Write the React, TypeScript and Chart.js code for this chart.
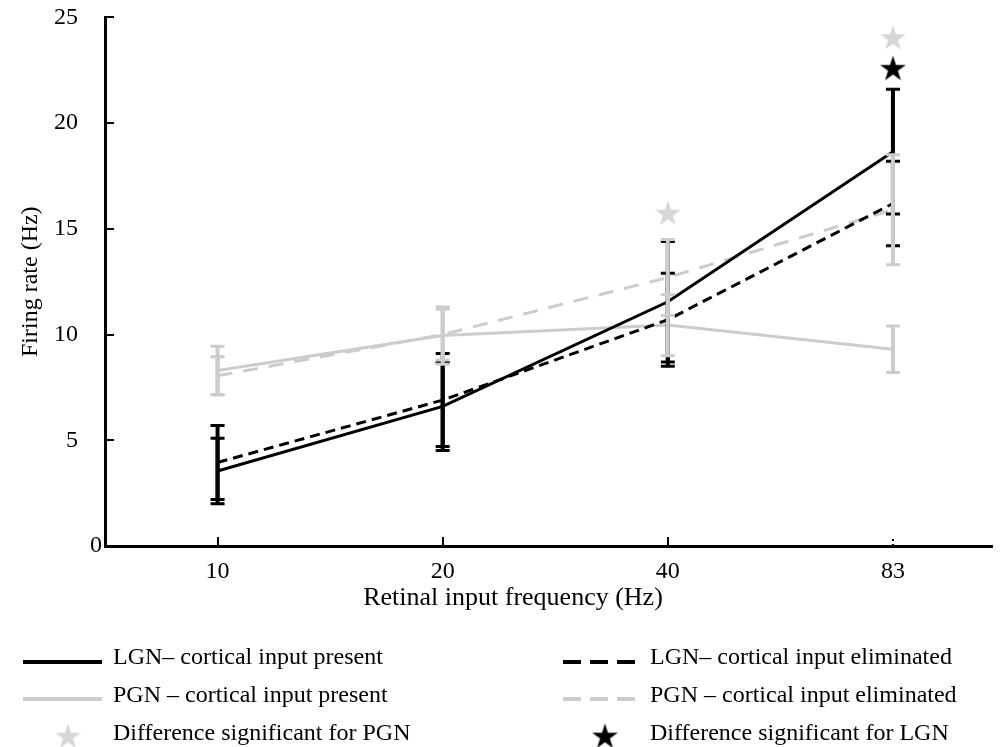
import { useEffect, useRef } from 'react';
import { Chart, registerables } from 'chart.js';

Chart.register(...registerables);

// ---------- data ----------
const frequencies = ['10', '20', '40', '83'];
const xPositions = [1, 2, 3, 4];
const yTicks = [0, 5, 10, 15, 20, 25];

const lgnPresent = [3.55, 6.6, 11.55, 18.65];
const lgnPresentErr = [1.55, 2.08, 2.85, 2.95];
const lgnEliminated = [3.95, 6.9, 10.7, 16.2];
const lgnEliminatedErr = [1.75, 2.2, 2.2, 2.0];
const pgnPresent = [8.3, 9.95, 10.45, 9.3];
const pgnPresentErr = [1.15, 1.35, 1.45, 1.1];
const pgnEliminated = [8.05, 10.0, 12.7, 15.9];
const pgnEliminatedErr = [0.9, 1.2, 1.8, 2.6];

const pgnSignificantX = [3, 4];
const pgnSignificantY = [15.7, 24.0];
const lgnSignificantX = [4];
const lgnSignificantY = [22.55];

const legendLabels = [
  'LGN\u2013 cortical input present',
  'LGN\u2013 cortical input eliminated',
  'PGN \u2013 cortical input present',
  'PGN \u2013 cortical input eliminated',
  'Difference significant for PGN',
  'Difference significant for LGN',
];

const xTitle = 'Retinal input frequency (Hz)';
const yTitle = 'Firing rate (Hz)';

// ---------- styles ----------
const BLACK = '#000000';
const GRAY = '#cccccc';
const STAR_GRAY = '#d6d6d6';
const FONT = 'Liberation Serif';

function makeStar(color: string, outer: number): HTMLCanvasElement {
  const size = Math.ceil(outer * 2 + 2);
  const c = document.createElement('canvas');
  c.width = size;
  c.height = size;
  const ctx = c.getContext('2d')!;
  ctx.fillStyle = color;
  ctx.beginPath();
  const cx = size / 2;
  const cy = size / 2;
  const inner = outer * 0.382;
  for (let i = 0; i < 10; i++) {
    const r = i % 2 === 0 ? outer : inner;
    const a = -Math.PI / 2 + (i * Math.PI) / 5;
    const x = cx + r * Math.cos(a);
    const y = cy + r * Math.sin(a);
    if (i === 0) ctx.moveTo(x, y);
    else ctx.lineTo(x, y);
  }
  ctx.closePath();
  ctx.fill();
  return c;
}

const pts = (ys: number[], xs: number[] = xPositions) => xs.map((x, i) => ({ x, y: ys[i] }));

const errorSeries = [
  { mean: lgnPresent, err: lgnPresentErr, color: BLACK },
  { mean: lgnEliminated, err: lgnEliminatedErr, color: BLACK },
  { mean: pgnPresent, err: pgnPresentErr, color: GRAY },
  { mean: pgnEliminated, err: pgnEliminatedErr, color: GRAY },
];

const errorBarPlugin = {
  id: 'errorBars',
  afterDatasetsDraw(chart: any) {
    const { ctx, scales } = chart;
    const xs = scales.x;
    const ys = scales.y;
    ctx.save();
    ctx.lineCap = 'butt';
    errorSeries.forEach((s) => {
      ctx.strokeStyle = s.color;
      xPositions.forEach((xv, i) => {
        const px = xs.getPixelForValue(xv);
        const top = ys.getPixelForValue(s.mean[i] + s.err[i]);
        const bot = ys.getPixelForValue(s.mean[i] - s.err[i]);
        ctx.lineWidth = 4;
        ctx.beginPath();
        ctx.moveTo(px, top);
        ctx.lineTo(px, bot);
        ctx.stroke();
        ctx.lineWidth = 3;
        ctx.beginPath();
        ctx.moveTo(px - 7, top);
        ctx.lineTo(px + 7, top);
        ctx.moveTo(px - 7, bot);
        ctx.lineTo(px + 7, bot);
        ctx.stroke();
      });
    });
    ctx.restore();
  },
};

const axisTickPlugin = {
  id: 'inwardTicks',
  afterDraw(chart: any) {
    const { ctx, scales, chartArea } = chart;
    ctx.save();
    ctx.strokeStyle = BLACK;
    ctx.lineWidth = 2;
    yTicks.forEach((v) => {
      if (v === 0) return;
      const py = Math.round(scales.y.getPixelForValue(v));
      ctx.beginPath();
      ctx.moveTo(chartArea.left, py);
      ctx.lineTo(chartArea.left + 9, py);
      ctx.stroke();
    });
    xPositions.forEach((v, i) => {
      const px = Math.round(scales.x.getPixelForValue(v));
      ctx.setLineDash(i === xPositions.length - 1 ? [2, 3] : []);
      ctx.beginPath();
      ctx.moveTo(px, chartArea.bottom);
      ctx.lineTo(px, chartArea.bottom - 9);
      ctx.stroke();
    });
    ctx.setLineDash([]);
    // x-axis title (centred where the original places it)
    ctx.font = `26px "${FONT}"`;
    ctx.fillStyle = BLACK;
    ctx.textAlign = 'center';
    ctx.textBaseline = 'middle';
    ctx.fillText(xTitle, 513, chartArea.bottom + 52);
    ctx.restore();
  },
};

const legendPlugin = {
  id: 'customLegend',
  afterDraw(chart: any) {
    const { ctx } = chart;
    const blackStar = makeStar(BLACK, 13.5);
    const grayStar = makeStar(STAR_GRAY, 13.5);
    ctx.save();
    ctx.font = `24px "${FONT}"`;
    ctx.fillStyle = BLACK;
    ctx.textBaseline = 'middle';
    ctx.textAlign = 'left';
    const drawLine = (x0: number, x1: number, y: number, color: string, dash: number[], w: number) => {
      ctx.strokeStyle = color;
      ctx.lineWidth = w;
      ctx.setLineDash(dash);
      ctx.beginPath();
      ctx.moveTo(x0, y);
      ctx.lineTo(x1, y);
      ctx.stroke();
      ctx.setLineDash([]);
    };
    // row 1
    drawLine(23, 102, 662, BLACK, [], 4);
    ctx.fillText(legendLabels[0], 113, 658);
    drawLine(563, 635, 662, BLACK, [18, 9], 4);
    ctx.fillText(legendLabels[1], 650, 658);
    // row 2
    drawLine(23, 102, 699, GRAY, [], 4);
    ctx.fillText(legendLabels[2], 113, 696);
    drawLine(563, 635, 699, GRAY, [18, 9], 4);
    ctx.fillText(legendLabels[3], 650, 696);
    // row 3
    ctx.drawImage(grayStar, 68 - grayStar.width / 2, 737 - grayStar.height / 2);
    ctx.fillText(legendLabels[4], 113, 734);
    ctx.drawImage(blackStar, 605 - blackStar.width / 2, 737 - blackStar.height / 2);
    ctx.fillText(legendLabels[5], 650, 734);
    ctx.restore();
  },
};

export default function App() {
  const canvasRef = useRef<HTMLCanvasElement | null>(null);

  useEffect(() => {
    const canvas = canvasRef.current;
    if (!canvas) return;
    Chart.defaults.font.family = FONT;
    Chart.defaults.color = BLACK;
    const grayStar = makeStar(STAR_GRAY, 13.5);
    const blackStar = makeStar(BLACK, 13.5);

    const chart = new Chart(canvas, {
      type: 'line',
      data: {
        datasets: [
          {
            label: legendLabels[0],
            data: pts(lgnPresent),
            borderColor: BLACK,
            borderWidth: 3,
            pointRadius: 0,
            tension: 0,
          },
          {
            label: legendLabels[1],
            data: pts(lgnEliminated),
            borderColor: BLACK,
            borderWidth: 3,
            borderDash: [10, 6],
            pointRadius: 0,
            tension: 0,
          },
          {
            label: legendLabels[2],
            data: pts(pgnPresent),
            borderColor: GRAY,
            borderWidth: 3,
            pointRadius: 0,
            tension: 0,
          },
          {
            label: legendLabels[3],
            data: pts(pgnEliminated),
            borderColor: GRAY,
            borderWidth: 3,
            borderDash: [15, 11],
            pointRadius: 0,
            tension: 0,
          },
          {
            label: legendLabels[4],
            data: pts(pgnSignificantY, pgnSignificantX),
            showLine: false,
            pointStyle: grayStar as any,
            pointRadius: 13,
          },
          {
            label: legendLabels[5],
            data: pts(lgnSignificantY, lgnSignificantX),
            showLine: false,
            pointStyle: blackStar as any,
            pointRadius: 13,
          },
        ],
      },
      options: {
        animation: false,
        responsive: false,
        devicePixelRatio: 1,
        events: [],
        layout: { padding: { top: 15, right: 0, bottom: 126, left: 0 } },
        plugins: {
          legend: { display: false },
          tooltip: { enabled: false },
        },
        scales: {
          x: {
            type: 'linear',
            min: 0.5,
            max: 4.44,
            afterBuildTicks: (s: any) => {
              s.ticks = xPositions.map((v) => ({ value: v }));
            },
            afterFit: (s: any) => {
              s.height = 75;
            },
            ticks: {
              autoSkip: false,
              maxRotation: 0,
              padding: 11,
              color: BLACK,
              font: { family: FONT, size: 24 },
              callback: (v: any) => {
                const i = xPositions.indexOf(Number(v));
                return i >= 0 ? frequencies[i] : '';
              },
            },
            grid: { display: false, drawTicks: false },
            border: { display: true, color: BLACK, width: 3 },
            title: { display: false },
          },
          y: {
            type: 'linear',
            min: 0,
            max: 25,
            afterBuildTicks: (s: any) => {
              s.ticks = yTicks.map((v) => ({ value: v }));
            },
            afterFit: (s: any) => {
              s.width = 105;
            },
            ticks: {
              padding: 3,
              color: BLACK,
              font: { family: FONT, size: 24 },
              callback: (v: any) => (Number(v) === 0 ? '0' : `${v}\u2003`),
            },
            grid: { display: false, drawTicks: false },
            border: { display: true, color: BLACK, width: 3 },
            title: {
              display: true,
              text: yTitle,
              color: BLACK,
              font: { family: FONT, size: 24 },
              padding: { top: 16, bottom: 0 },
            },
          },
        },
      },
      plugins: [errorBarPlugin, axisTickPlugin, legendPlugin],
    });

    return () => {
      chart.destroy();
    };
  }, []);

  return (
    <div style={{ position: 'absolute', left: 0, top: 0, width: 1006, height: 747, background: '#fff' }}>
      <canvas ref={canvasRef} width={1006} height={747} style={{ display: 'block' }} />
    </div>
  );
}
